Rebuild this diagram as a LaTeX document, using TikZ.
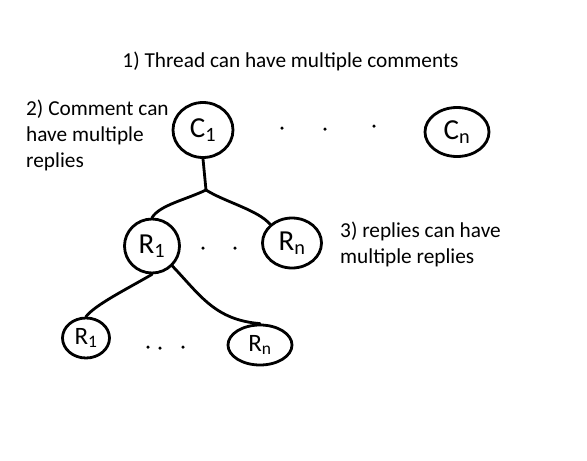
\documentclass[tikz,border=0pt]{standalone}
\usepackage{fontspec}
\setmainfont{Carlito}
\usetikzlibrary{shapes.geometric}
\begin{document}
\begin{tikzpicture}[x=1pt,y=-1pt,
  lbl/.style={font=\fontsize{21.3}{26}\selectfont, inner sep=0pt, anchor=base west},
  bubble/.style={draw, ellipse, line width=2.8pt, inner sep=0pt, font=\fontsize{29}{32}\selectfont},
  small/.style={font=\fontsize{25}{28}\selectfont},
  link/.style={line width=2.8pt, line cap=round, line join=round},
  dotm/.style={circle, fill, inner sep=0pt, minimum size=3.5pt}]
\useasboundingbox (0,0) rectangle (587,461);
\node[lbl, anchor=base] (t1) at (290.5,67) {1) Thread can have multiple comments};
\node[lbl] (t2a) at (26,115) {2) Comment can};
\node[lbl] (t2b) at (26,141) {have multiple};
\node[lbl] (t2c) at (26,167) {replies};
\node[lbl] (t3a) at (340,237) {3) replies can have};
\node[lbl] (t3b) at (340,263) {multiple replies};
\node[bubble, minimum width=60pt, minimum height=55pt] (c1) at (203,130) {C\textsubscript{1}};
\node[bubble, minimum width=64pt, minimum height=49pt] (cn) at (457,132) {C\textsubscript{n}};
\node[bubble, minimum width=55pt, minimum height=54pt] (r1) at (152,246) {R\textsubscript{1}};
\node[bubble, minimum width=59pt, minimum height=50pt] (rn) at (292,243) {R\textsubscript{n}};
\node[bubble, small, minimum width=47pt, minimum height=40pt] (s1) at (86,338) {R\textsubscript{1}};
\node[bubble, small, minimum width=64pt, minimum height=40pt] (sn) at (260,345) {R\textsubscript{n}};
\node[dotm] (d1) at (282,128) {};
\node[dotm] (d2) at (325,129) {};
\node[dotm] (d3) at (374,126) {};
\node[dotm] (d4) at (203,248) {};
\node[dotm] (d5) at (235,248) {};
\node[dotm] (d6) at (148,347) {};
\node[dotm] (d7) at (160,348) {};
\node[dotm] (d8) at (183,347) {};
\coordinate (j) at (206,190);
\draw[link] (c1.south) -- (j);
\draw[link] (j) .. controls (185,200) and (160,205) .. (r1.north);
\draw[link] (j) .. controls (225,202) and (258,210) .. (rn.north west);
\draw[link] (r1.south) .. controls (125,290) and (95,305) .. (s1.north);
\draw[link] (r1.south east) .. controls (200,295) and (215,320) .. (sn.north);
\end{tikzpicture}
\end{document}
